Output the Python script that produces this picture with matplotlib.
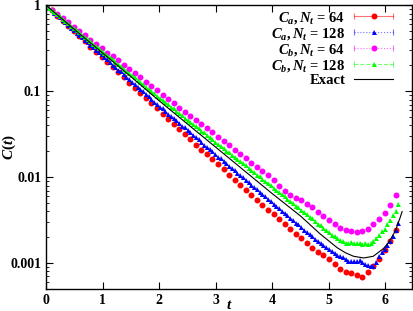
import numpy as np
import matplotlib
matplotlib.use('Agg')
import matplotlib.pyplot as plt
from matplotlib.lines import Line2D
from matplotlib.legend_handler import HandlerBase

plt.rcParams['font.family'] = 'Liberation Serif'
plt.rcParams['font.weight'] = 'bold'
plt.rcParams['mathtext.fontset'] = 'custom'
plt.rcParams['mathtext.it'] = 'Liberation Serif:italic:bold'
plt.rcParams['mathtext.rm'] = 'Liberation Serif:bold'
plt.rcParams['mathtext.bf'] = 'Liberation Serif:bold'

# lattice times: N_t points over one period 2*pi
t64 = np.arange(64) * 2 * np.pi / 64
t128 = np.arange(128) * 2 * np.pi / 128

# log10 C(t)
ca64_log = [0.00, -0.06, -0.12, -0.18, -0.24, -0.30, -0.36, -0.42, -0.48, -0.54,
            -0.60, -0.66, -0.72, -0.78, -0.84, -0.90, -0.96, -1.02, -1.08, -1.14,
            -1.20, -1.26, -1.32, -1.38, -1.44, -1.50, -1.56, -1.62, -1.68, -1.73,
            -1.79, -1.85, -1.91, -1.97, -2.03, -2.09, -2.15, -2.21, -2.26, -2.32,
            -2.38, -2.43, -2.49, -2.55, -2.60, -2.66, -2.71, -2.77, -2.82, -2.87,
            -2.91, -2.95, -3.01, -3.07, -3.10, -3.12, -3.14, -3.16, -3.10, -3.03,
            -2.95, -2.85, -2.74, -2.61]

ca128_log = [0.00, -0.03, -0.06, -0.09, -0.11, -0.14, -0.17, -0.20, -0.23, -0.26,
             -0.29, -0.32, -0.34, -0.37, -0.40, -0.43, -0.46, -0.49, -0.52, -0.54,
             -0.57, -0.60, -0.63, -0.66, -0.69, -0.72, -0.75, -0.77, -0.80, -0.83,
             -0.86, -0.89, -0.92, -0.95, -0.97, -1.00, -1.03, -1.06, -1.09, -1.12,
             -1.15, -1.18, -1.20, -1.23, -1.26, -1.29, -1.31, -1.34, -1.37, -1.40,
             -1.42, -1.45, -1.48, -1.51, -1.53, -1.56, -1.59, -1.62, -1.65, -1.67,
             -1.70, -1.73, -1.76, -1.78, -1.81, -1.84, -1.87, -1.89, -1.92, -1.95,
             -1.98, -2.00, -2.03, -2.06, -2.09, -2.11, -2.14, -2.17, -2.20, -2.22,
             -2.25, -2.28, -2.31, -2.33, -2.36, -2.39, -2.42, -2.44, -2.47, -2.50,
             -2.53, -2.55, -2.58, -2.61, -2.64, -2.66, -2.69, -2.72, -2.74, -2.77,
             -2.79, -2.81, -2.83, -2.86, -2.88, -2.90, -2.92, -2.93, -2.95, -2.97,
             -2.98, -2.97, -2.98, -2.96, -2.99, -3.01, -3.02, -3.03, -3.03, -2.99,
             -2.92, -2.87, -2.83, -2.79, -2.74, -2.68, -2.61, -2.53]

cb64_log = [0.00, -0.05, -0.10, -0.15, -0.20, -0.25, -0.30, -0.35, -0.40, -0.45,
            -0.50, -0.55, -0.59, -0.64, -0.69, -0.74, -0.79, -0.84, -0.89, -0.94,
            -0.99, -1.04, -1.09, -1.14, -1.19, -1.24, -1.29, -1.34, -1.38, -1.43,
            -1.48, -1.53, -1.58, -1.63, -1.68, -1.73, -1.78, -1.83, -1.88, -1.93,
            -1.98, -2.03, -2.10, -2.16, -2.21, -2.24, -2.27, -2.31, -2.35, -2.40,
            -2.45, -2.50, -2.55, -2.59, -2.61, -2.63, -2.64, -2.63, -2.60, -2.55,
            -2.49, -2.42, -2.32, -2.21]

cb128_log = [0.00, -0.03, -0.05, -0.08, -0.10, -0.13, -0.16, -0.18, -0.21, -0.24,
             -0.26, -0.29, -0.31, -0.34, -0.37, -0.39, -0.42, -0.45, -0.47, -0.50,
             -0.53, -0.55, -0.58, -0.60, -0.63, -0.66, -0.68, -0.71, -0.74, -0.76,
             -0.79, -0.81, -0.84, -0.87, -0.89, -0.92, -0.95, -0.97, -1.00, -1.02,
             -1.05, -1.08, -1.10, -1.13, -1.15, -1.18, -1.20, -1.23, -1.25, -1.28,
             -1.31, -1.33, -1.36, -1.38, -1.41, -1.43, -1.46, -1.48, -1.51, -1.53,
             -1.56, -1.59, -1.61, -1.64, -1.66, -1.69, -1.71, -1.74, -1.76, -1.79,
             -1.81, -1.84, -1.86, -1.89, -1.92, -1.94, -1.97, -1.99, -2.02, -2.04,
             -2.07, -2.09, -2.12, -2.15, -2.17, -2.20, -2.22, -2.25, -2.28, -2.30,
             -2.33, -2.35, -2.38, -2.41, -2.43, -2.46, -2.48, -2.51, -2.54, -2.56,
             -2.59, -2.61, -2.64, -2.67, -2.69, -2.71, -2.73, -2.74, -2.76, -2.76,
             -2.75, -2.76, -2.77, -2.77, -2.78, -2.77, -2.78, -2.77, -2.74, -2.71,
             -2.67, -2.63, -2.60, -2.55, -2.50, -2.44, -2.39, -2.31]

t_exact = [0.0, 0.5, 1.0, 1.5, 2.0, 2.5, 3.0, 3.5, 4.0, 4.5, 4.85, 5.0, 5.15,
           5.3, 5.44, 5.62, 5.79, 5.97, 6.06, 6.15, 6.2, 6.26, 6.3]
exact_log = [0.0, -0.28, -0.555, -0.83, -1.11, -1.38, -1.65, -1.92, -2.19, -2.45,
             -2.66, -2.74, -2.82, -2.88, -2.92, -2.94, -2.92, -2.83, -2.76, -2.66,
             -2.59, -2.48, -2.40]

labels = [r'$C_a, N_t$ = 64', r'$C_a, N_t$ = 128', r'$C_b, N_t$ = 64',
          r'$C_b, N_t$ = 128', 'Exact']


class CapHandler(HandlerBase):
    # gnuplot style key sample: bar with end caps and the point in the middle
    def create_artists(self, legend, orig_handle, xdescent, ydescent,
                       width, height, fontsize, trans):
        x0, x1 = -xdescent, width - xdescent
        y = (height - ydescent) / 2
        c = orig_handle.get_color()
        bar = Line2D([x0, x1], [y, y], color=c, ls=orig_handle.get_linestyle(),
                     lw=0.8, alpha=0.55)
        caps = Line2D([x0, x1], [y, y], color=c, ls='none', marker='|',
                      ms=5, mew=0.8, alpha=0.55)
        dot = Line2D([(x0 + x1) / 2], [y], color=c, ls='none',
                     marker=orig_handle.get_marker(),
                     ms=orig_handle.get_markersize(), mew=0)
        for a in (bar, caps, dot):
            a.set_transform(trans)
        return [bar, caps, dot]


fig = plt.figure(figsize=(4.13, 3.11), dpi=100)
ax = fig.add_axes([0.1114, 0.0707, 0.8855, 0.9123])

series = [
    (t64, ca64_log, 'red', 'o', 4.3, '-'),
    (t128, ca128_log, 'blue', '^', 3.6, ':'),
    (t64, cb64_log, 'magenta', 'o', 4.3, ':'),
    (t128, cb128_log, 'lime', '^', 3.6, '--'),
]
handles = []
for t, lg, col, mk, ms, ls in series:
    ax.plot(t, 10 ** np.array(lg), ls='none', marker=mk, ms=ms, mew=0, color=col)
    handles.append(Line2D([], [], color=col, marker=mk, ms=ms, ls=ls))
ax.plot(t_exact, 10 ** np.array(exact_log), color='black', lw=0.8)
handles.append(Line2D([], [], color='black', lw=0.8))

ax.set_yscale('log')
ax.set_xlim(0, 6.47)
ax.set_ylim(5e-4, 1)
ax.set_xticks(range(7))
ax.set_yticks([1, 0.1, 0.01, 0.001])
ax.set_yticklabels(['1', '0.1', '0.01', '0.001'])
ax.tick_params(which='both', direction='in', top=True, right=True, labelsize=10)
ax.tick_params(which='major', length=5, width=0.8)
ax.tick_params(which='minor', length=2.5, width=0.6)
ax.tick_params(axis='x', which='minor', bottom=False, top=False)
for s in ax.spines.values():
    s.set_linewidth(1.0)

ax.set_xlabel(r'$t$', fontsize=11, va='baseline')
ax.xaxis.set_label_coords(0.5, -0.07)
ax.set_ylabel(r'$C(t)$', fontsize=11, va='center')
ax.yaxis.set_label_coords(-0.10, 0.5)

ax.legend(handles, labels, handler_map={h: CapHandler() for h in handles[:4]},
          loc='upper right', bbox_to_anchor=(0.95, 0.983), frameon=False,
          markerfirst=False, handlelength=2.7, handletextpad=0.6,
          labelspacing=0.0, borderaxespad=0, borderpad=0, fontsize=10.5)

fig.savefig('out.png', dpi=100)
